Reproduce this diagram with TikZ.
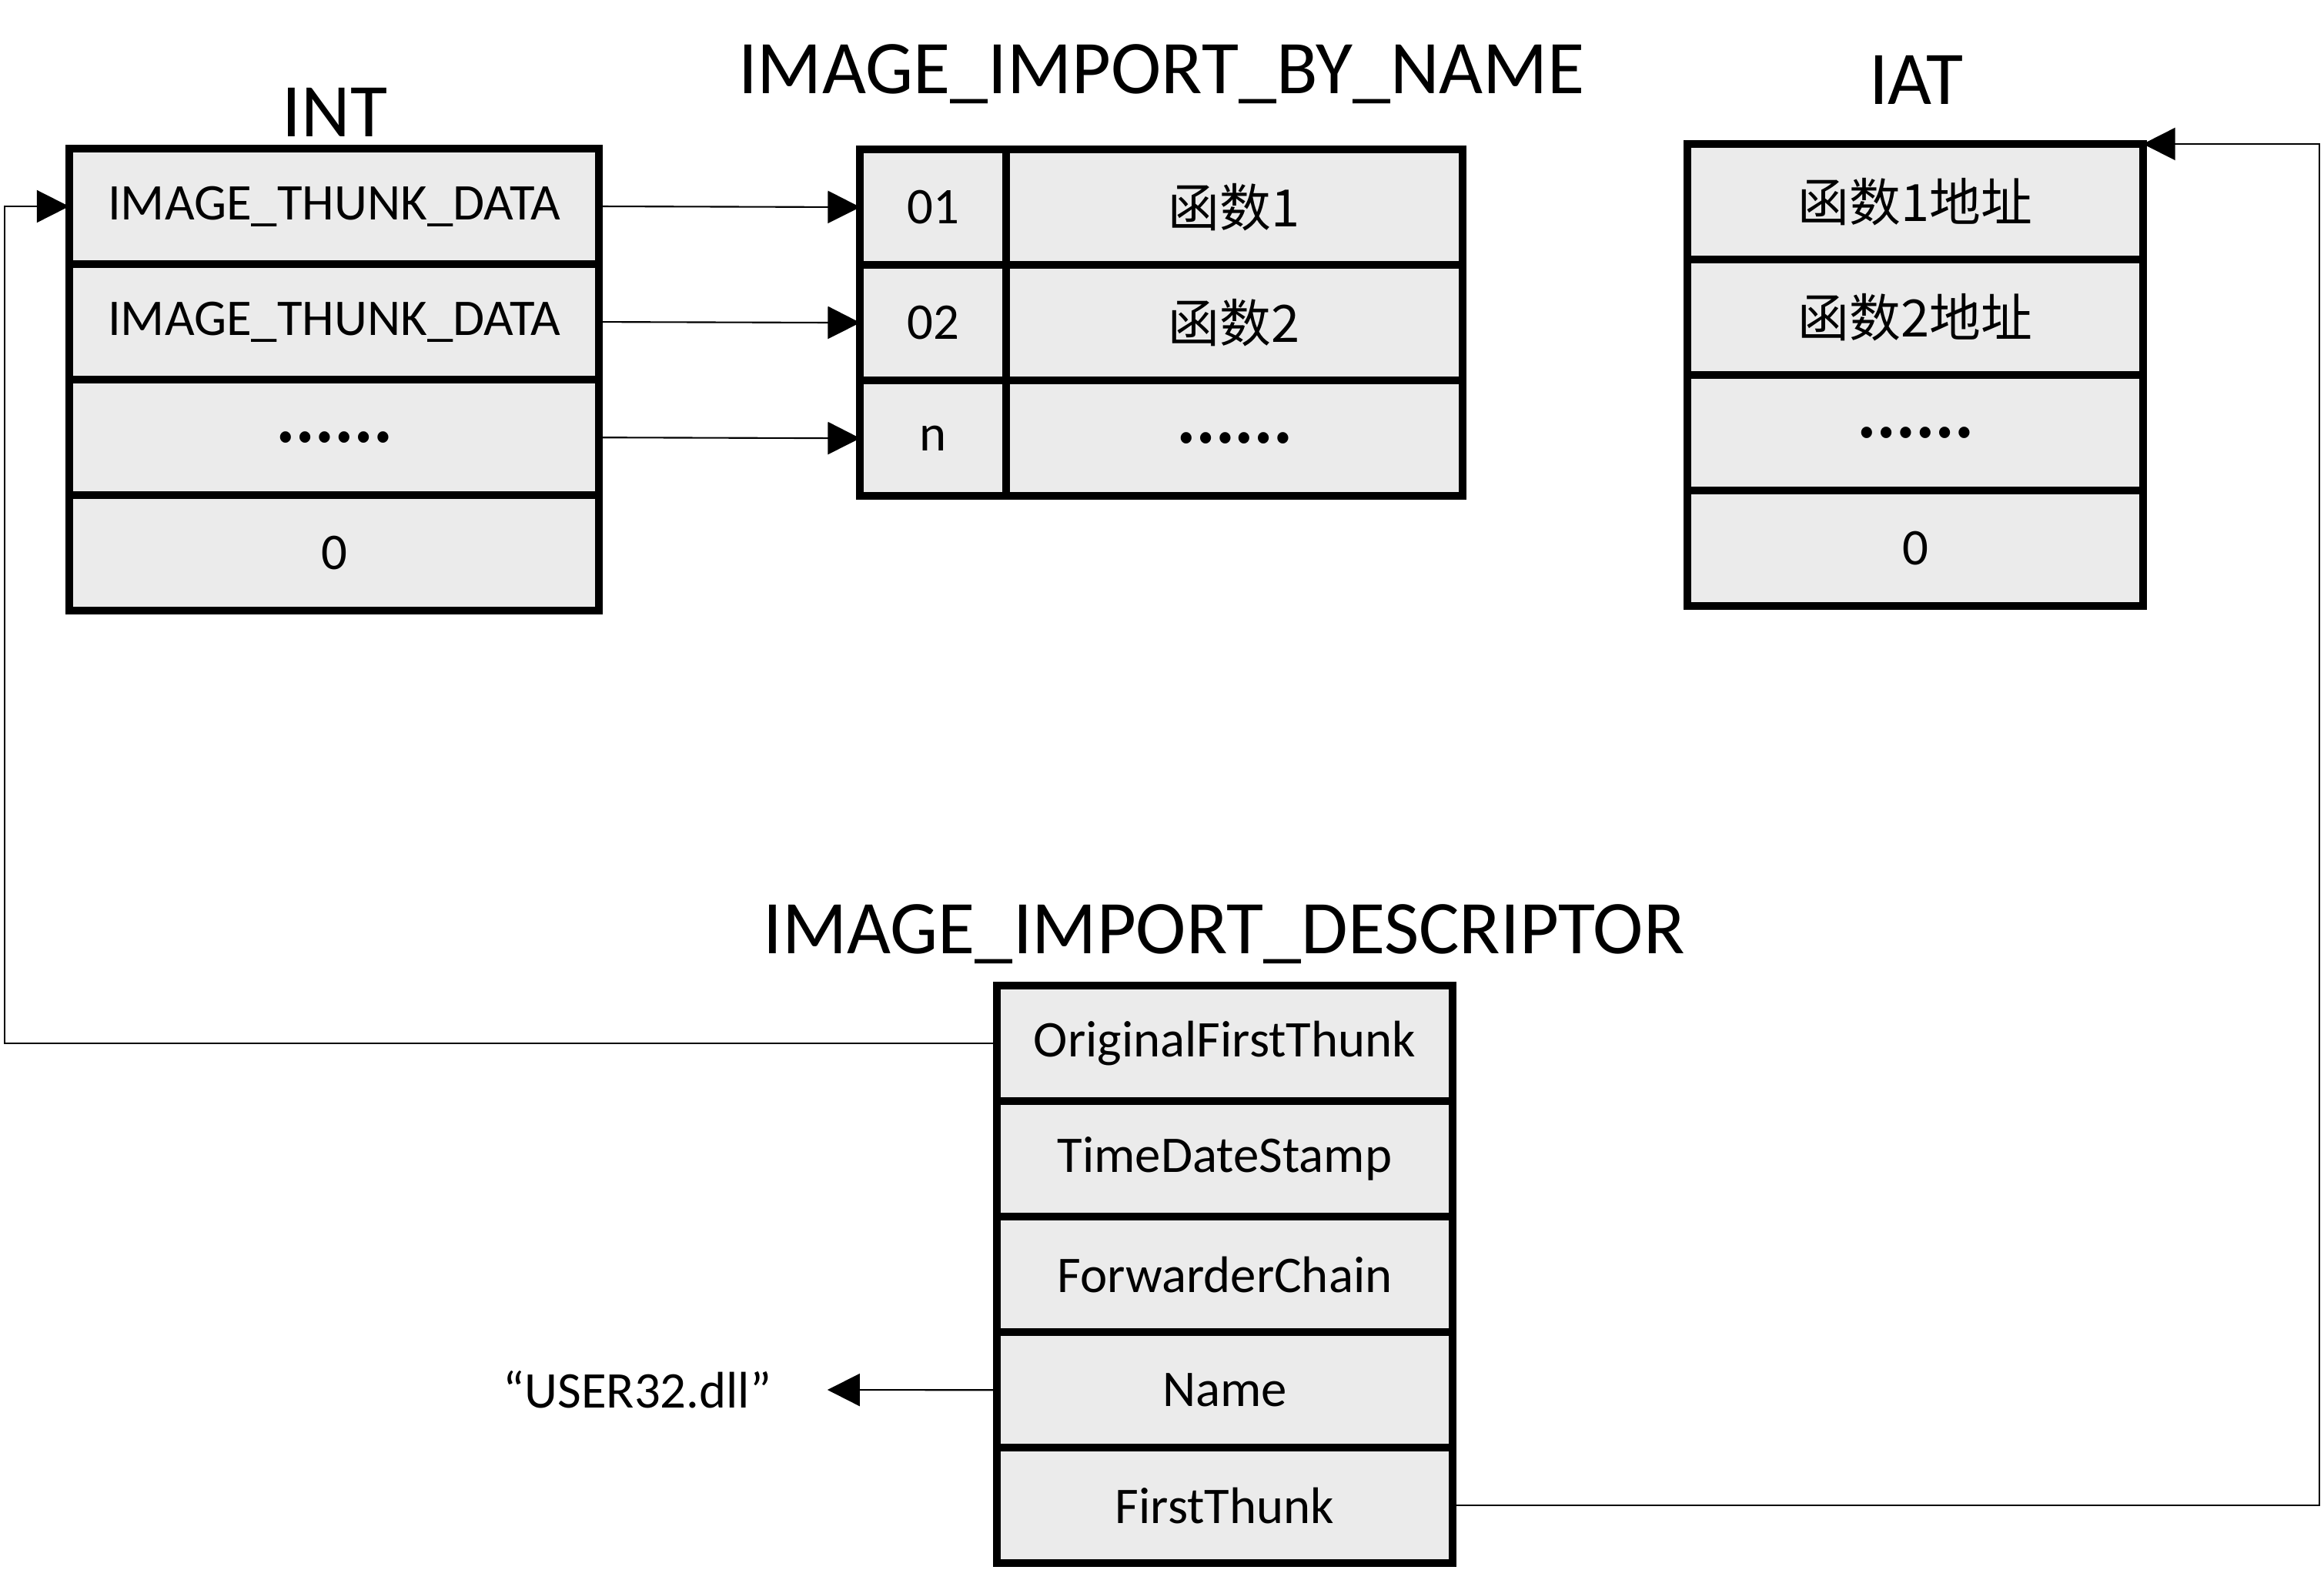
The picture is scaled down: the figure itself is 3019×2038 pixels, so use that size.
\documentclass[tikz,border=0pt]{standalone}
\usepackage{fontspec}
\setmainfont{Carlito}
\newfontfamily\cjk{Noto Sans CJK SC}
\usetikzlibrary{arrows.meta,positioning}
\definecolor{cellgray}{RGB}{235,235,235}
\newcommand{\moredots}{{\cjk\bfseries ……}}
\tikzset{
cell/.style = {draw, fill=cellgray, rectangle, line width=1mm, inner sep=0pt, outer sep=0pt, minimum height=1.5cm, font=\fontsize{19}{22}\selectfont},
title/.style = {anchor=base, font=\fontsize{28}{32}\selectfont},
label/.style = {font=\fontsize{19}{22}\selectfont},
link/.style = {line width=0.6pt},
rail/.style = {coordinate}
}

\begin{document}
\begin{tikzpicture}[x=0.01cm, y=-0.01cm, node distance=1.5cm, >={Triangle[length=4.2mm,width=4.2mm]}]
  \useasboundingbox (0,0) rectangle (3019,2038);

  % INT
  \node [title] (inttitle) at (435,177) {INT};
  \node [cell, minimum width=6.88cm] (int1) at (434,268) {IMAGE\_THUNK\_DATA};
  \node [cell, minimum width=6.88cm, below of=int1] (int2) {IMAGE\_THUNK\_DATA};
  \node [cell, minimum width=6.88cm, below of=int2] (int3) {\moredots};
  \node [cell, minimum width=6.88cm, below of=int3] (int4) {0};

  % IMAGE_IMPORT_BY_NAME
  \node [title] (ibntitle) at (1509,121) {IMAGE\_IMPORT\_BY\_NAME};
  \node [cell, minimum width=1.89cm] (hint1) at (1212,269) {01};
  \node [cell, minimum width=1.89cm, below of=hint1] (hint2) {02};
  \node [cell, minimum width=1.89cm, below of=hint2] (hint3) {n};
  \node [cell, minimum width=5.93cm, right of=hint1, node distance=3.91cm] (fname1) {\cjk 函数1};
  \node [cell, minimum width=5.93cm, below of=fname1] (fname2) {\cjk 函数2};
  \node [cell, minimum width=5.93cm, below of=fname2] (fname3) {\moredots};

  % IAT
  \node [title] (iattitle) at (2489,135) {IAT};
  \node [cell, minimum width=5.91cm] (iat1) at (2488,262) {\cjk 函数1地址};
  \node [cell, minimum width=5.91cm, below of=iat1] (iat2) {\cjk 函数2地址};
  \node [cell, minimum width=5.91cm, below of=iat2] (iat3) {\moredots};
  \node [cell, minimum width=5.91cm, below of=iat3] (iat4) {0};

  % IMAGE_IMPORT_DESCRIPTOR
  \node [title] (iidtitle) at (1590,1238) {IMAGE\_IMPORT\_DESCRIPTOR};
  \node [cell, minimum width=5.91cm] (oft) at (1591,1355) {OriginalFirstThunk};
  \node [cell, minimum width=5.91cm, below of=oft] (tds) {TimeDateStamp};
  \node [cell, minimum width=5.91cm, below of=tds] (fwc) {ForwarderChain};
  \node [cell, minimum width=5.91cm, below of=fwc] (name) {Name};
  \node [cell, minimum width=5.91cm, below of=name] (ft) {FirstThunk};

  \node [label] (dll) at (828,1805) {“USER32.dll”};
  \node [rail] (leftrail) at (6,0) {};
  \node [rail] (rightrail) at (3013,0) {};

  \draw [->, link] (int1.east) -- (hint1.west);
  \draw [->, link] (int2.east) -- (hint2.west);
  \draw [->, link] (int3.east) -- (hint3.west);
  \draw [->, link] (oft.west) -- (oft.west -| leftrail) |- (int1.west);
  \draw [->, link] (ft.east) -- (ft.east -| rightrail) |- (iat1.north east);
  \draw [->, link] (name.west) -- ([xshift=0.6cm]dll.east);
\end{tikzpicture}
\end{document}
